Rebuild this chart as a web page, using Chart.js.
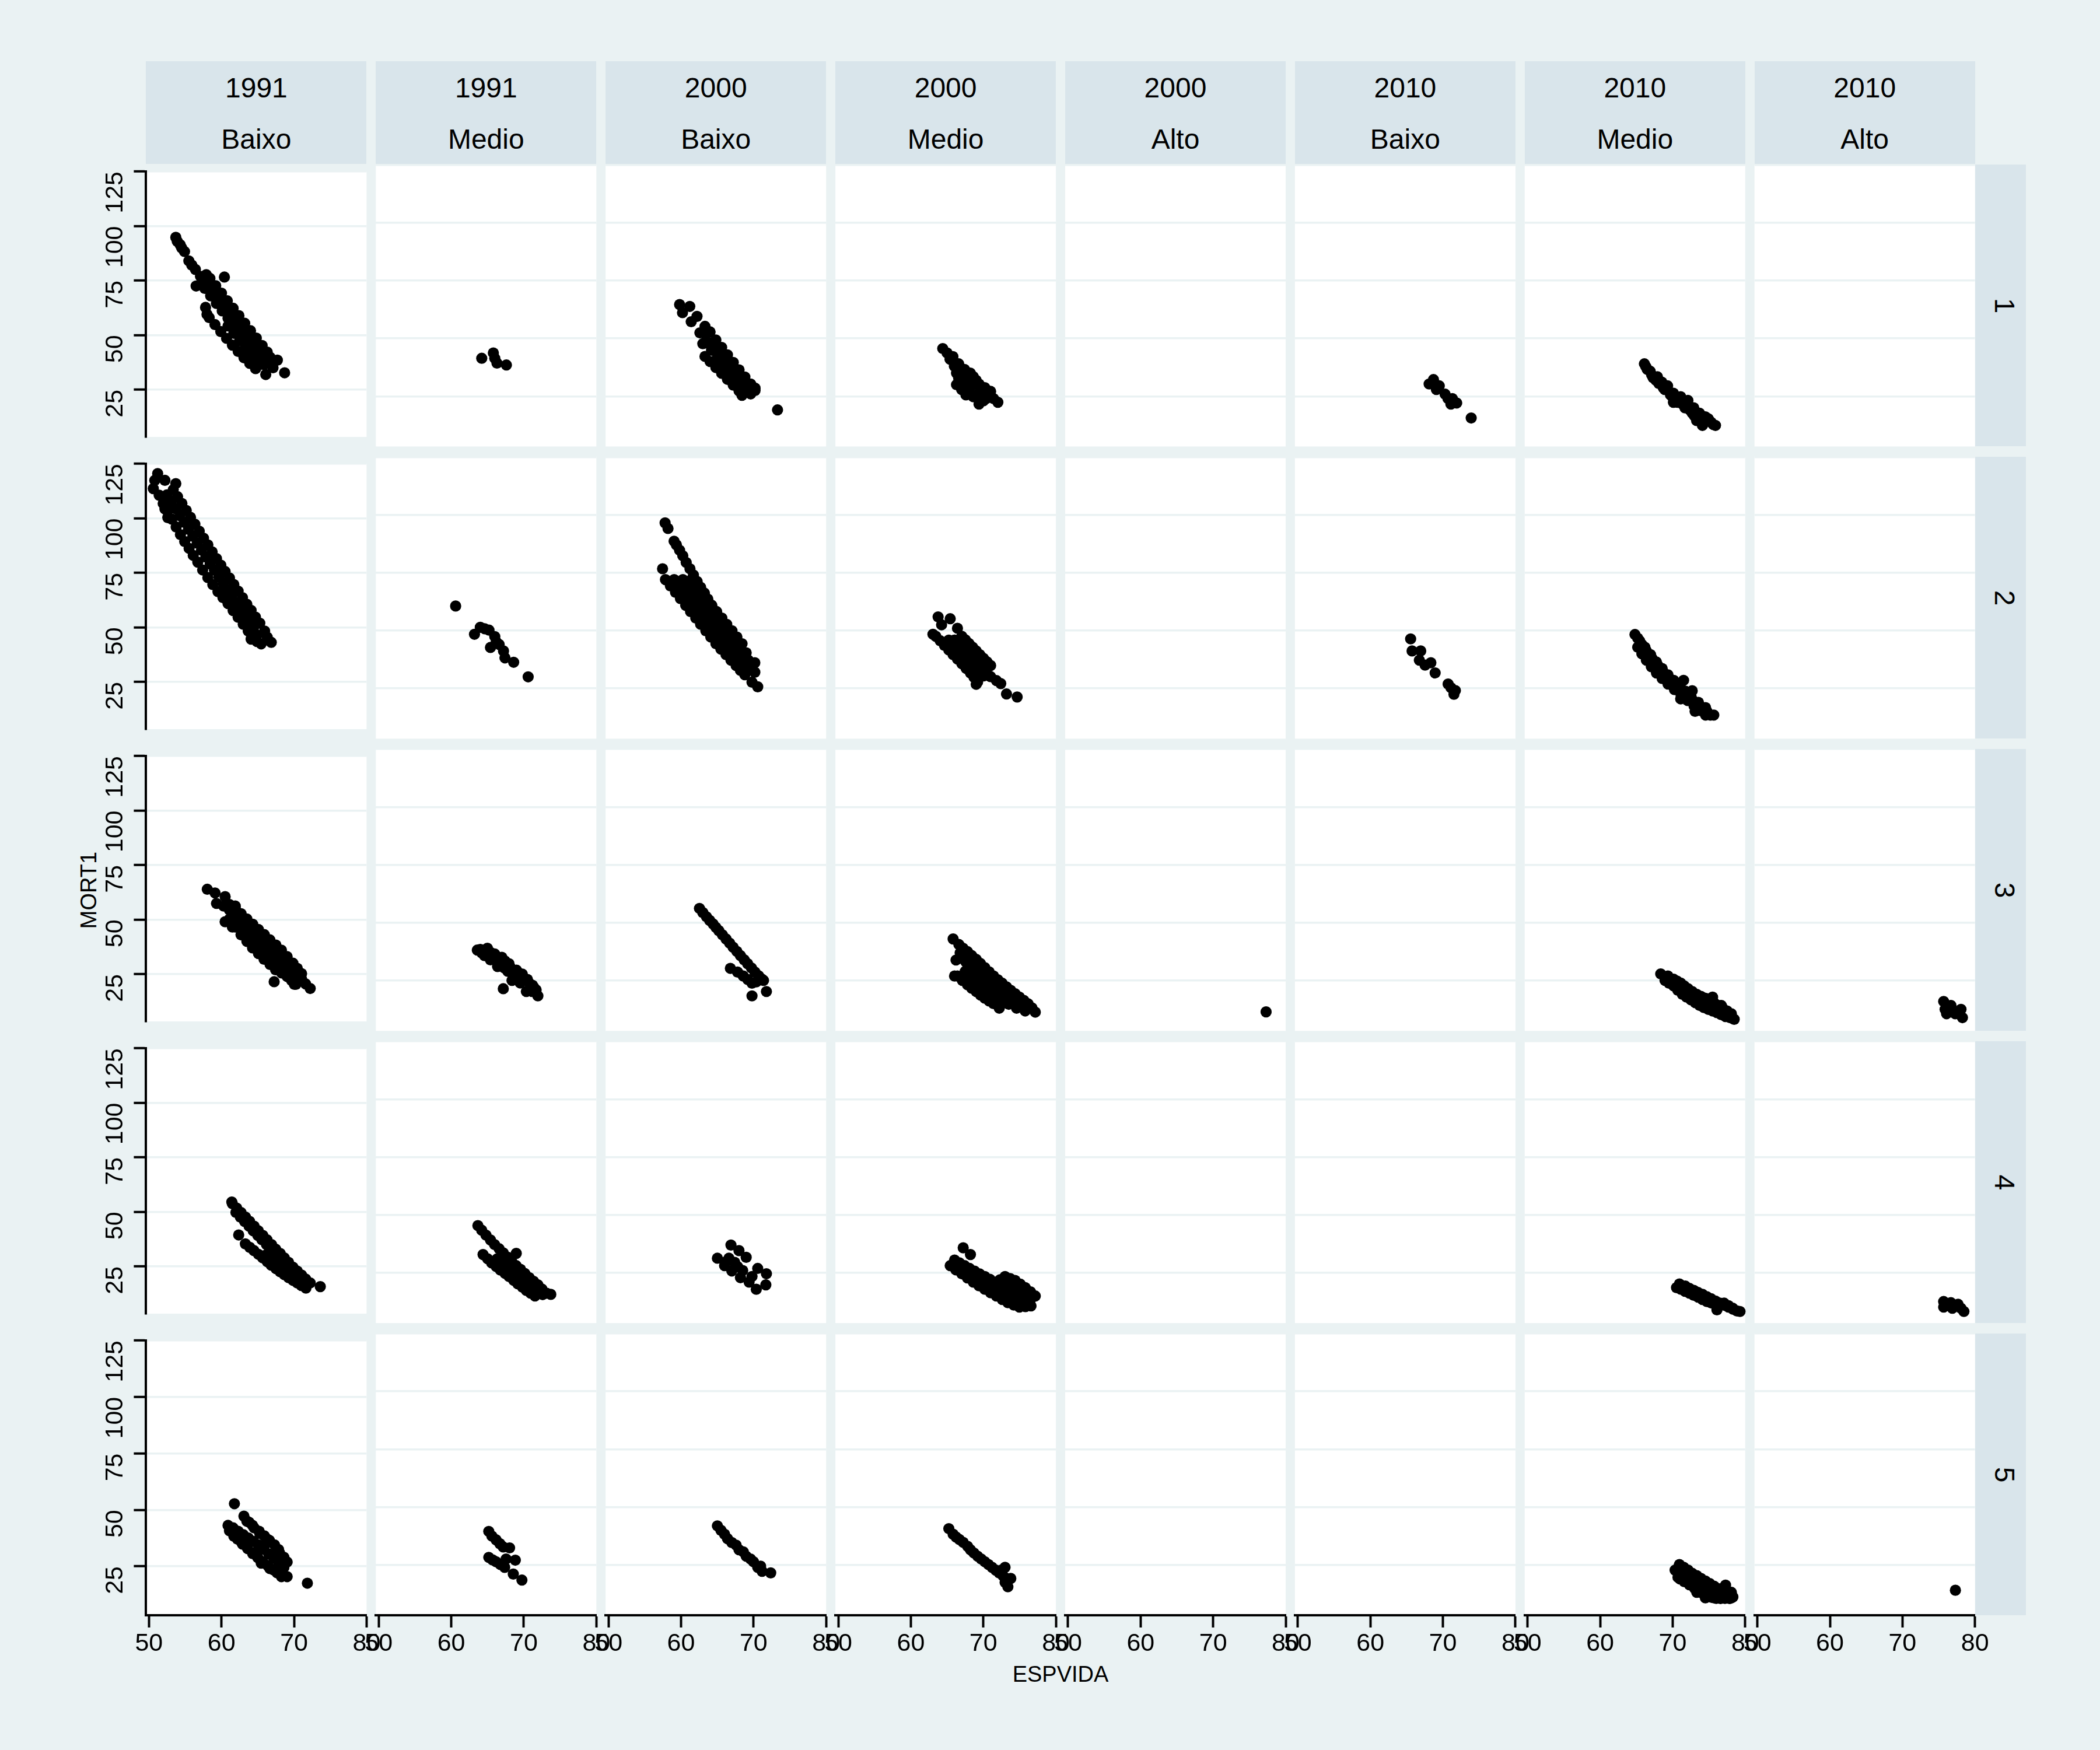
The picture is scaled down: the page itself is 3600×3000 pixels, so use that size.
<!DOCTYPE html>
<html><head><meta charset="utf-8">
<script src="https://cdn.jsdelivr.net/npm/chart.js@4.4.1/dist/chart.umd.min.js"></script>
<style>
html,body{margin:0;padding:0;background:#eaf2f3;}
#root{position:relative;width:3600px;height:3000px;background:#eaf2f3;overflow:hidden;font-family:"Liberation Sans",Arial,sans-serif;color:#000;}
.strip{position:absolute;background:#d9e5eb;}
.lbl{position:absolute;white-space:nowrap;font-size:48px;line-height:48px;}
canvas{position:absolute;}
</style></head><body><div id="root"></div>
<script>
// ---------- categories / ticks ----------
const years  = ['1991','1991','2000','2000','2000','2010','2010','2010'];
const levels = ['Baixo','Medio','Baixo','Medio','Alto','Baixo','Medio','Alto'];
const rowLabels = ['1','2','3','4','5'];
const xTicks = [50,60,70,80];
const yTicks = [25,50,75,100,125];
const xRange = [49.6,80];
const yRange = [3.3,125];
const xTitle = 'ESPVIDA';
const yTitle = 'MORT1';

// ---------- data: [ESPVIDA, MORT1] per panel ----------
const r1_1991_Baixo = [[53.7,94.8],[53.9,93.0],[54.3,91.4],[54.5,90.0],[54.9,88.3],[55.5,84.0],[55.9,82.1],[56.4,80.1],[57.1,76.9],[57.9,77.7],[56.5,72.5],[60.4,76.6],[57.8,62.7],[58.0,59.5],
 [58.4,76.0],[59.2,72.6],[60.0,69.2],[60.8,65.7],[61.6,62.3],[62.4,58.9],[63.2,55.4],[64.0,52.0],[64.8,48.6],[65.6,45.2],[66.3,42.2],
 [57.7,74.8],[58.5,71.4],[59.3,68.0],[60.1,64.5],[60.9,61.1],[61.7,57.7],[62.5,54.2],[63.3,50.8],[64.1,47.4],[64.9,44.0],[65.6,41.0],
 [57.7,71.4],[58.5,68.0],[59.3,64.5],[60.1,61.1],[60.9,57.7],[61.7,54.2],[62.5,50.8],[63.3,47.4],[64.1,44.0],[64.8,41.0],
 [60.9,54.2],[61.7,50.8],[62.5,47.4],[63.3,44.0],[64.0,41.0],
 [58.3,58.0],[59.1,54.8],[59.9,51.6],[60.7,48.5],[61.5,45.4],[62.3,42.5],[63.1,39.6],[63.9,37.0],[64.7,34.6],
 [64.5,39.5],[65.2,38.0],[65.9,36.5],[66.1,31.9],[68.7,32.7],[67.7,38.5],[66.7,39.8],[67.1,35.0],[65.5,36.6],[66.8,37.2]];
const r1_1991_Medio = [[64.2,41.4],[65.8,43.7],[66.0,41.4],[66.3,39.3],[67.6,38.5]];
const r1_2000_Baixo = [[59.8,64.6],[61.2,63.8],[60.2,61.1],[61.4,57.2],[62.2,59.5],[62.6,52.4],[63.0,47.7],
 [63.3,55.2],[64.0,52.8],[64.8,49.3],[65.6,46.1],[66.4,42.9],[67.2,39.6],[68.0,36.4],[68.8,33.3],[69.6,30.3],[70.2,28.5],
 [63.4,51.6],[64.2,48.1],[65.0,44.9],[65.8,41.7],[66.6,38.4],[67.4,35.2],[68.2,32.1],[69.0,29.1],
 [63.4,48.1],[64.2,44.9],[65.0,41.7],[65.8,38.4],[66.6,35.2],[67.4,32.1],[68.2,29.1],
 [63.3,42.2],[64.0,40.0],[64.8,37.4],[65.6,34.9],[66.4,32.3],[67.2,29.8],[68.0,27.3],[68.4,25.4],
 [70.2,27.5],[69.6,26.0],[73.3,19.1]];
const r1_2000_Medio = [[64.4,45.6],[65.0,43.7],[65.8,42.1],[66.6,39.0],[67.4,36.6],[68.2,35.0],[68.6,33.5],[66.6,32.7],[67.0,27.9],[67.6,25.6],[68.6,24.8],[69.4,26.3],[69.4,21.6],[70.4,24.0],[71.0,27.1],[72.0,22.4],[69.4,30.3],[70.2,28.7],[67.8,31.1],[69.0,31.9],[66.9,35.5],[67.5,30.0],[68.2,29.0],[70.0,25.5],
 [65.4,41.0],[66.0,38.0],[66.3,35.0],[67.2,33.5],[68.0,32.5],[68.8,30.5],[69.6,28.5],[70.6,26.0],[71.4,24.0],[66.3,30.0],[67.0,29.5],[68.0,27.0],[69.0,25.0],[70.0,23.0]];
const r1_2010_Baixo = [[68.1,30.3],[68.7,32.2],[69.1,27.9],[69.5,29.5],[70.3,25.9],[70.7,24.0],[71.1,21.6],[71.9,22.1],[71.3,24.0],[73.9,15.6]];
const r1_2010_Medio = [[66.1,39.0],[66.5,36.6],[66.9,35.8],[67.1,34.2],[67.7,31.9],[67.9,33.4],[68.5,31.1],[68.7,28.7],[69.3,29.5],[69.7,25.6],[70.1,26.3],[70.1,22.4],[70.7,22.4],[71.1,24.8],[71.7,20.0],[72.1,23.2],[72.7,17.7],[72.9,20.0],[73.3,14.5],[73.7,17.7],[74.1,12.4],[74.5,16.1],[74.9,15.3],[75.3,13.7],[75.9,12.4],
 [66.3,37.8],[67.3,33.0],[68.1,30.5],[68.9,27.9],[69.9,25.0],[70.9,23.5],[71.4,21.5],[72.4,19.0],[73.0,16.5],[73.5,16.0],[74.3,14.5],[75.1,14.2],[75.6,12.8]];

const r2_1991_Baixo = [[51.2,120.5],[50.8,117.4],[52.2,117.4],[50.6,113.6],[53.7,115.9],[51.4,110.6],[52.2,104.3],[52.6,100.3],
 [53.35,113.1],[53.94,109.9],[54.54,106.8],[55.14,103.6],[55.73,100.4],[56.33,97.3],[56.93,94.1],[57.52,90.9],[58.12,87.8],[58.71,84.6],[59.31,81.5],[59.91,78.5],[60.5,75.6],[61.1,72.6],[61.7,69.6],[62.29,66.6],[62.89,63.6],[63.49,60.6],[64.08,57.8],[64.68,54.7],[65.28,51.9],[65.95,48.3],
 [52.47,110.7],[53.07,107.5],[53.67,104.4],[54.26,101.2],[54.86,98.1],[55.45,94.9],[56.05,91.7],[56.65,88.6],[57.24,85.4],[57.84,82.3],[58.44,79.1],[59.03,76.2],[59.63,73.2],[60.23,70.2],[60.82,67.3],[61.42,64.3],[62.01,61.3],[62.61,58.3],[63.21,55.4],[63.8,52.6],[64.4,49.6],
 [51.96,106.8],[52.55,103.2],[53.15,99.6],[53.75,96.0],[54.34,92.5],[54.93,89.3],[55.53,86.2],[56.1,83.0],[56.73,79.9],[57.4,76.3],[58.12,72.8],[58.8,69.6],[59.51,66.4],[60.2,63.6],[60.9,60.9],[61.6,57.7],[62.29,54.6],[63.0,51.4],[63.68,48.3],[64.3,45.9],[64.88,43.5],
 [59.83,76.8],[66.86,43.1],[65.47,42.4],[64.08,44.6],[64.9,46.5],[66.3,45.5]];
const r2_1991_Medio = [[60.6,60.6],[64.0,51.4],[63.2,48.4],[65.2,50.2],[66.0,47.4],[65.4,42.7],[66.2,45.1],[67.2,41.2],[67.4,38.2],[68.6,36.3],[70.6,30.0],[64.6,50.8],[66.6,44.0]];
const r2_2000_Baixo = [[57.8,96.5],[58.2,94.1],
 [59.04,88.6],[59.36,87.0],[59.8,84.7],[60.24,82.3],[60.71,79.4],[61.23,76.7],[61.71,74.0],[62.22,71.2],[62.7,68.7],[63.22,66.2],[63.69,63.6],[64.21,60.9],[64.69,58.4],[65.21,55.9],[65.68,53.5],[66.2,51.0],[66.68,48.7],[67.19,46.7],[67.67,45.1],[68.19,43.6],
 [57.85,72.0],[58.53,69.3],[59.24,66.5],[59.92,63.8],[60.64,60.9],[61.31,58.2],[62.03,55.4],[62.7,52.7],[63.42,49.9],[64.1,47.2],[64.81,44.3],[65.49,42.0],[66.2,39.6],[66.88,37.2],[67.59,34.9],[68.19,32.8],[68.79,30.9],
 [59.05,72.0],[59.73,69.3],[60.44,66.5],[61.12,63.8],[61.84,60.9],[62.51,58.2],[63.23,55.4],[63.9,52.7],[64.62,49.9],[65.3,47.2],[66.01,44.3],[66.69,42.0],[67.4,39.6],[68.08,37.2],[68.79,34.9],[69.39,32.8],
 [60.25,72.0],[60.93,69.3],[61.64,66.5],[62.32,63.8],[63.04,60.9],[63.71,58.2],[64.43,55.4],[65.1,52.7],[65.82,49.9],[66.5,47.2],[67.21,44.3],[67.89,42.0],[68.6,39.6],[69.28,37.2],
 [61.45,72.0],[62.13,69.3],[62.84,66.5],[63.52,63.8],[64.24,60.9],[64.91,58.2],[65.63,55.4],[66.3,52.7],[67.02,49.9],[67.7,47.2],[68.41,44.3],
 [68.98,40.4],[70.17,36.1],[70.17,32.0],[69.78,27.7],[70.57,25.7],[57.45,76.7],[69.5,34.5]];
const r2_2000_Medio = [[63.76,55.9],[64.24,52.5],[65.43,55.1],[66.43,51.0],[63.05,48.4],[66.03,45.9],
 [63.45,47.5],[64.05,45.6],[64.64,43.6],[65.24,41.6],[65.83,39.6],[66.43,37.7],[67.03,35.7],[67.62,33.7],[68.22,31.7],[68.72,29.8],[69.21,27.8],
 [65.24,45.9],[65.83,43.9],[66.43,41.9],[67.03,40.0],[67.62,38.0],[68.22,36.0],[68.82,34.1],[69.41,32.2],[70.01,30.4],[71.0,30.1],
 [66.04,45.9],[66.63,43.9],[67.23,41.9],[67.83,40.0],[68.42,38.0],[69.02,36.0],[69.62,34.1],[70.21,32.2],[70.81,30.4],
 [67.03,47.5],[67.52,46.0],[68.02,44.4],[68.52,42.8],[69.01,41.2],[69.51,39.6],[70.01,38.0],[70.5,36.5],[71.0,34.9],
 [71.8,28.4],[73.19,22.6],[74.66,21.3],[72.4,27.1],[69.01,26.8]];
const r2_2010_Baixo = [[65.55,46.4],[65.75,41.2],[66.94,41.2],[66.75,37.2],[67.54,35.1],[68.34,36.1],[68.93,31.7],[70.72,26.9],[71.72,24.1],[71.52,22.5],[71.12,25.3]];
const r2_2010_Medio = [[64.8,48.3],[65.45,45.5],[66.17,42.8],[66.95,39.6],[67.76,36.4],[68.55,33.6],[69.35,30.9],[70.15,28.5],[70.95,26.2],[71.75,23.8],[72.54,21.4],[73.55,19.0],[74.53,16.7],
 [65.18,46.7],[65.75,44.0],[66.37,41.2],[67.15,38.0],[67.96,34.9],[68.75,31.8],[69.55,28.8],[70.45,26.4],[71.35,24.1],[72.15,21.7],[72.94,19.4],[73.85,17.2],[74.73,15.1],
 [65.18,42.8],[65.75,40.0],[66.37,37.2],[67.05,34.4],[67.76,31.7],[68.55,29.3],[69.36,26.9],[70.25,24.5],[71.15,22.2],[72.05,19.8],[72.94,17.5],[73.75,15.5],[74.53,13.5],[75.2,13.5],[75.67,13.5],
 [71.5,28.5],[72.69,24.0],[73.09,15.1],[71.1,20.5]];

const r3_1991_Baixo = [[58.04,63.9],[59.11,62.2],[60.5,60.5],[59.31,57.4],[61.9,56.2],[60.5,49.0],[61.5,46.6],
 [60.3,56.2],[61.1,54.4],[61.9,52.6],[62.7,50.2],[63.49,47.8],[64.3,45.4],[65.08,43.0],[65.9,40.6],[66.67,38.2],[67.5,35.8],[68.26,33.5],[69.05,30.5],[69.85,27.5],[70.45,25.1],[71.04,22.7],[71.6,20.5],[72.23,18.4],
 [61.1,56.9],[61.9,55.1],[62.7,52.7],[63.49,50.3],[64.3,47.9],[65.08,45.5],[65.9,43.1],[66.67,40.7],[67.5,38.3],[68.26,36.0],[69.05,33.0],[69.85,30.0],[70.45,27.6],[71.04,25.2],
 [61.5,52.6],[62.3,49.6],[63.09,46.6],[63.9,43.6],[64.68,40.6],[65.5,37.8],[66.27,35.1],[67.1,32.7],[67.86,30.3],[68.7,28.3],[69.45,26.3],
 [61.1,50.2],[61.9,46.6],[62.69,43.0],[63.5,40.0],[64.28,37.0],[65.1,34.4],[65.87,31.8],[66.7,29.4],[67.46,27.0],[68.3,25.5],[69.05,23.9],[69.65,22.1],[70.25,20.3],
 [67.26,21.5],[70.05,20.3]];
const r3_1991_Medio = [[63.59,38.2],[64.98,39.0],[65.78,35.1],[66.97,35.1],[67.96,32.3],[67.17,21.5],[68.96,28.0],[69.75,26.3],[70.75,23.9],[71.94,18.4],[70.35,20.3],[64.58,35.8],[66.38,31.1],[68.37,25.1],[71.14,20.3],[64.2,37.0],[65.4,34.0],[66.0,36.5],[67.3,30.5],[68.4,29.5],[69.5,24.0],[71.4,22.0],
 [64.0,38.5],[65.5,37.0],[66.5,34.0],[67.4,33.5],[68.2,30.5],[69.0,29.5],[69.8,27.8],[70.5,25.5],[71.2,23.0],[71.7,21.0],[67.0,32.0],[67.8,29.0]];
const r3_2000_Baixo = [[62.54,56.2],[63.0,54.4],[63.5,52.6],[63.95,51.0],[64.41,49.5],[64.8,48.0],[65.2,46.6],[65.7,44.8],[66.2,43.0],[66.7,41.2],[67.19,39.4],[67.7,37.6],[68.19,35.8],[68.7,34.0],[69.18,32.3],[69.7,30.5],[70.18,28.7],[70.7,27.1],[71.17,25.6],[66.8,30.3],[67.79,28.7],[68.58,27.0],[69.78,23.9],[69.78,18.4],[71.77,20.3],[71.37,25.1],[69.2,25.5],[70.4,24.5]];
const r3_2000_Medio = [[65.83,43.0],[66.23,33.9],[66.03,27.0],
 [66.63,40.6],[67.2,39.0],[67.82,37.5],[68.4,35.8],[69.01,34.2],[69.6,32.4],[70.2,30.6],[70.8,28.8],[71.4,27.0],[72.0,25.4],[72.59,23.9],[73.2,22.3],[73.78,20.8],[74.4,19.3],[74.97,17.9],[75.6,16.4],[76.17,15.0],[76.7,13.2],[77.16,11.4],
 [67.02,34.6],[67.6,33.0],[68.22,31.5],[68.8,30.1],[69.41,28.7],[70.0,27.1],[70.6,25.6],[71.2,24.1],[71.79,22.7],[72.4,21.2],[72.99,19.8],[73.6,18.2],[74.18,16.7],
 [66.43,27.0],[67.1,25.1],[67.82,23.2],[68.4,21.7],[69.01,20.3],[69.6,18.8],[70.2,17.4],[70.8,16.2],[71.4,15.1],[72.19,13.1],[73.38,15.1],[74.58,13.1],[75.77,11.9],[75.2,14.0],
 [66.8,37.0],[67.5,29.0],[68.0,27.5],[68.7,26.0],[69.3,24.3],[70.0,22.5],[70.7,20.6],[71.3,19.0],[72.0,17.5],[72.7,16.2],[73.5,14.8],[74.5,15.5]];
const r3_2000_Alto = [[77.3,11.5]];
const r3_2010_Medio = [[68.35,27.9],[69.34,27.0],
 [70.14,25.6],[70.6,24.8],[71.13,23.9],[71.6,22.7],[72.12,21.5],[72.7,20.3],[73.32,19.1],[73.9,18.2],[74.51,17.4],[75.1,16.4],[75.7,15.5],[76.3,14.3],[76.9,13.1],[77.5,11.9],[78.09,10.7],[78.48,8.3],
 [68.94,25.1],[69.5,23.9],[70.14,22.7],[70.7,20.9],[71.33,19.1],[71.9,17.9],[72.52,16.7],[73.1,15.5],[73.71,14.3],[74.3,13.4],[74.9,12.6],[75.5,11.9],[76.1,11.2],[76.7,10.3],[77.29,9.5],[77.9,9.0],
 [75.5,17.9],[76.7,14.3]];
const r3_2010_Alto = [[75.68,16.0],[75.88,12.6],[76.68,14.3],[77.27,10.7],[78.07,12.6],[78.27,9.0],[76.08,10.7],[77.0,12.0]];

const r4_1991_Baixo = [[61.42,54.5],
 [61.5,53.7],[62.1,51.7],[62.69,49.7],[63.3,47.6],[63.88,45.6],[64.5,43.4],[65.08,41.3],[65.7,39.2],[66.27,37.2],[66.9,35.0],[67.46,32.9],[68.1,30.9],[68.65,28.9],[69.25,26.8],[69.85,24.6],[70.45,22.8],[71.04,21.0],[71.6,19.2],[72.23,17.4],
 [61.99,49.7],[62.6,47.6],[63.18,45.6],[63.8,43.4],[64.38,41.3],[65.0,39.2],[65.57,37.2],[66.2,35.0],[66.76,32.9],[67.4,30.9],[67.95,28.9],[68.55,26.8],[69.15,24.6],[69.75,22.8],[70.34,21.0],[70.9,19.2],
 [63.29,35.3],[63.9,33.7],[64.48,32.2],[65.1,30.5],[65.67,28.9],[66.3,27.2],[66.86,25.5],[67.5,24.0],[68.06,22.6],[68.65,21.2],[69.25,19.8],[69.85,18.6],[70.44,17.4],[71.0,16.2],[71.64,15.0],
 [66.27,30.5],[66.9,29.0],[67.46,27.7],[68.1,26.3],[68.65,25.0],[69.25,23.3],[69.85,21.7],[70.45,20.1],[71.04,18.6],[71.6,17.2],
 [62.37,39.4],[73.62,15.7]];
const r4_1991_Medio = [[63.67,45.4],[64.2,43.4],[64.78,41.3],[65.4,39.2],[65.97,37.2],[66.6,35.4],[67.17,33.6],[67.8,31.7],[68.36,29.8],[68.95,28.1],[69.55,26.5],[70.15,24.7],[70.75,22.9],[71.35,21.3],[71.94,19.8],[72.5,18.0],[73.13,16.2],
 [64.38,32.9],[65.0,31.1],[65.57,29.3],[66.2,27.7],[66.77,26.2],[67.4,24.8],[67.96,23.4],[68.6,21.8],[69.16,20.3],[69.8,18.8],[70.35,17.4],[70.95,16.2],[71.54,15.0],
 [66.3,31.0],[67.0,29.0],[67.7,27.2],[68.4,25.4],[69.1,23.6],[69.8,21.9],[70.5,20.2],[71.2,18.6],[71.9,17.0],[72.6,15.6],
 [68.96,33.4],[73.72,15.7]];
const r4_2000_Baixo = [[66.88,37.0],[67.99,34.6],[68.98,31.7],[65.01,31.3],[66.6,31.3],[66.0,28.1],[67.0,25.8],[67.79,27.7],[68.19,22.9],[69.38,21.0],[70.37,17.9],[70.57,26.9],[71.77,24.6],[71.69,19.8],[69.78,23.4],[67.4,29.5],[68.5,26.0],[66.3,30.0]];
const r4_2000_Medio = [[67.22,35.8],[68.22,32.9],
 [66.03,30.5],[66.7,29.3],[67.42,28.1],[68.1,26.9],[68.81,25.7],[69.5,24.5],[70.2,23.4],[70.9,22.2],[71.6,21.0],[72.3,22.0],[72.99,23.4],[73.7,22.5],[74.38,21.7],[75.1,20.1],[75.77,18.6],[76.5,16.8],[77.16,15.0],
 [65.43,28.1],[66.2,26.3],[67.02,24.6],[67.8,22.8],[68.61,21.0],[69.4,19.4],[70.2,17.9],[71.0,16.4],[71.79,15.0],[72.6,13.5],[73.38,12.1],[74.2,11.1],[74.97,10.2],[75.8,10.4],[76.57,10.7],
 [67.02,27.0],[67.8,25.5],[68.61,24.1],[69.4,22.5],[70.2,21.0],[71.0,19.8],[71.79,18.6],[72.6,17.4],[73.38,16.2],[74.2,15.0],[74.97,13.8],[75.8,13.8],[76.57,13.8],
 [72.3,19.8],[73.0,20.0],[73.7,19.5],[74.4,18.5],[75.1,17.3],[75.8,16.0],[76.5,14.8],[71.5,19.5],[70.7,20.5],[69.9,21.8],[69.1,23.2],[68.3,24.8],[67.5,26.2],[76.0,12.2],[75.2,12.0],[74.4,12.5],[73.6,13.8],[72.8,15.0]];
const r4_2010_Medio = [[70.93,20.2],[70.53,18.6],
 [71.73,19.3],[72.3,18.3],[72.92,17.4],[73.5,16.5],[74.11,15.7],[74.7,14.7],[75.3,13.8],[75.9,12.8],[76.5,11.9],[77.1,11.0],[77.69,10.2],[78.3,9.3],[78.88,8.5],
 [71.13,17.9],[71.7,17.0],[72.32,16.2],[72.9,15.3],[73.51,14.5],[74.1,13.5],[74.71,12.6],[75.3,12.0],[75.9,11.4],[76.5,11.6],[77.09,11.9],[77.7,10.8],[78.29,9.7],[79.28,8.3],
 [76.1,9.0]];
const r4_2010_Alto = [[75.68,12.6],[76.68,12.1],[75.68,10.2],[76.88,9.7],[77.67,11.4],[78.47,8.3],[78.07,9.7],[76.2,11.5],[77.2,10.6]];

const r5_1991_Baixo = [[61.78,52.7],[63.09,47.2],[60.9,43.1],[61.1,40.7],[61.7,38.3],[62.69,35.9],[63.49,45.0],[64.28,43.1],[65.28,39.5],[66.27,37.1],[67.86,32.4],[69.05,26.9],[65.87,33.6],[67.06,30.0],[68.26,20.4],[69.05,20.4],[71.84,17.5],[64.68,31.2],[63.49,33.6],[65.47,26.4],[66.67,24.0],[67.66,22.1],
 [61.6,42.0],[62.3,40.5],[63.0,39.0],[63.7,37.5],[64.4,36.0],[65.1,34.5],[65.8,32.5],[66.5,30.5],[67.2,28.5],[67.9,26.5],[68.6,24.5],
 [62.2,37.0],[62.9,34.8],[63.6,32.8],[64.3,30.6],[65.0,28.8],[65.7,27.0],[66.4,25.2],[67.1,23.5],
 [63.8,44.5],[64.5,42.0],[65.2,40.5],[65.9,38.5],[66.6,36.5],[67.3,34.5],[68.0,31.0],[68.6,29.0]];
const r5_1991_Medio = [[65.17,39.5],[66.17,35.9],[67.16,32.8],[68.04,32.4],[65.17,28.3],[66.17,26.4],[67.36,24.0],[67.56,27.6],[68.83,27.1],[68.55,21.1],[69.74,18.5],[66.77,25.2],[65.6,37.5],[66.7,34.2],[65.7,27.2]];
const r5_2000_Baixo = [[65.01,41.9],[65.5,40.0],[66.0,38.3],[66.4,36.4],[67.0,34.7],[67.59,33.6],[67.99,31.6],[68.58,30.7],[68.98,28.8],[69.58,27.6],[69.98,26.4],[70.57,24.0],[70.97,24.5],[71.17,22.3],[72.36,21.6]];
const r5_2000_Medio = [[65.24,40.7],[65.83,38.3],[66.23,37.1],[66.7,36.0],[67.22,34.8],[67.82,33.1],[68.22,31.6],[68.7,30.2],[69.21,28.8],[69.7,27.6],[70.2,26.4],[70.7,25.2],[71.2,24.0],[71.7,22.8],[72.19,21.6],[72.7,20.4],[73.19,19.2],[72.99,24.0],[73.78,19.2],[73.38,15.6],[72.5,22.8],[73.0,17.5]];
const r5_2010_Medio = [[70.93,25.2],[70.33,22.8],[71.53,24.0],[70.73,19.7],[72.12,22.8],[73.32,20.4],[74.51,18.0],[75.7,15.6],[76.9,13.9],[77.89,12.0],[72.32,16.8],[73.32,13.2],[74.51,10.8],[75.7,10.8],[76.9,10.8],[78.09,10.8],[72.52,19.2],[73.71,15.6],[74.9,14.4],[77.29,16.3],[78.09,13.2],[71.5,21.0],[72.9,18.0],[74.1,16.2],[75.3,13.0],[76.3,12.5],[77.5,13.5],[71.2,19.0],
 [71.9,21.3],[72.7,20.0],[73.5,18.6],[74.3,17.2],[75.1,15.9],[75.9,14.6],[76.7,13.3],[77.5,12.2],[78.3,11.2],[72.0,18.5],[72.8,17.0],[73.6,15.4],[74.4,14.0],[75.2,12.6],[76.0,11.8],[76.8,11.5],[77.6,11.0],[71.4,23.0],[70.9,21.5],
 [70.9,24.8],[71.5,23.6],[72.1,22.5],[72.7,21.4],[73.3,20.3],[73.9,19.2],[74.5,18.1],[75.1,17.0],[75.7,15.9],[76.3,14.8],[76.9,13.8],[77.5,12.8],[78.1,11.8],
 [70.7,21.8],[71.3,20.8],[71.9,19.8],[72.5,18.8],[73.1,17.8],[73.7,16.8],[74.3,15.8],[74.9,14.8],[75.5,13.8],[76.1,12.9],[76.7,12.0],[77.3,11.2],[77.9,10.6],
 [71.0,19.0],[71.6,17.8],[72.3,16.5],[73.0,15.0],[73.6,13.8],[74.2,12.6],[74.8,11.6],[75.4,11.0],[76.0,10.6],[76.6,10.5],[77.2,10.6],[77.8,10.6]];
const r5_2010_Alto = [[77.3,14.1]];

// table of panels (rows x columns) built from the arrays above
const E = [];
const panelGrid = [
  [r1_1991_Baixo, r1_1991_Medio, r1_2000_Baixo, r1_2000_Medio, E, r1_2010_Baixo, r1_2010_Medio, E],
  [r2_1991_Baixo, r2_1991_Medio, r2_2000_Baixo, r2_2000_Medio, E, r2_2010_Baixo, r2_2010_Medio, E],
  [r3_1991_Baixo, r3_1991_Medio, r3_2000_Baixo, r3_2000_Medio, r3_2000_Alto, E, r3_2010_Medio, r3_2010_Alto],
  [r4_1991_Baixo, r4_1991_Medio, r4_2000_Baixo, r4_2000_Medio, E, E, r4_2010_Medio, r4_2010_Alto],
  [r5_1991_Baixo, r5_1991_Medio, r5_2000_Baixo, r5_2000_Medio, E, E, r5_2010_Medio, r5_2010_Alto]
];

// ---------- layout (pixels) ----------
const PL = 250.4, PT = 282.4, CW = 378, RH = 483, CP = 393.9, RP = 500.9;
const BG = '#eaf2f3';
const FONT = '"Liberation Sans", Arial, Helvetica, sans-serif';
const root = document.getElementById('root');

function addDiv(cls, css, text) {
  const d = document.createElement('div');
  d.className = cls; Object.assign(d.style, css);
  if (text !== undefined) d.textContent = text;
  root.appendChild(d); return d;
}

// column header strips
for (let c = 0; c < years.length; c++) {
  const L = PL + c * CP;
  addDiv('strip', {left: L + 'px', top: '105px', width: CW + 'px', height: '176px'});
  addDiv('lbl', {left: (L + CW / 2) + 'px', top: '127px', transform: 'translateX(-50%)'}, years[c]);
  addDiv('lbl', {left: (L + CW / 2) + 'px', top: '215px', transform: 'translateX(-50%)'}, levels[c]);
}
// row strips
const stripL = PL + 7 * CP + CW;
for (let r = 0; r < rowLabels.length; r++) {
  const T = PT + r * RP;
  addDiv('strip', {left: stripL + 'px', top: T + 'px', width: (3473.3 - stripL) + 'px', height: RH + 'px'});
  addDiv('lbl', {left: '3436px', top: (T + RH / 2) + 'px', transform: 'translate(-50%,-50%) rotate(90deg)'}, rowLabels[r]);
}
// axis titles
addDiv('lbl', {left: '151.5px', top: ((PT + PT + 4 * RP + RH) / 2) + 'px', fontSize: '38px', lineHeight: '38px', transform: 'translate(-50%,-50%) rotate(-90deg)'}, yTitle);
addDiv('lbl', {left: ((PL + stripL) / 2) + 'px', top: '2870px', fontSize: '38px', lineHeight: '38px', transform: 'translate(-50%,-50%)'}, xTitle);

// ---------- charts ----------
Chart.defaults.font.family = FONT;
Chart.defaults.color = '#000';
const whiteArea = {
  id: 'whiteArea',
  beforeDraw(chart) {
    const a = chart.chartArea, ctx = chart.ctx;
    ctx.save(); ctx.fillStyle = '#ffffff';
    ctx.fillRect(a.left, a.top, a.right - a.left, a.bottom - a.top);
    ctx.restore();
  }
};

for (let r = 0; r < 5; r++) {
  for (let c = 0; c < 8; c++) {
    const isLeft = c === 0, isBottom = r === 4;
    const CL = PL + c * CP, CT = PT + r * RP;
    const yW = isLeft ? 150 : 0;
    const xH = isBottom ? 90 : 0;
    const cvLeft = Math.floor(CL) - 40 - yW;
    const cvTop = Math.floor(CT) - 45;
    const padL = CL - yW - cvLeft;
    const padT = CT - cvTop;
    const W = Math.ceil(padL + yW + CW + 40);
    const H = Math.ceil(padT + RH + xH + (isBottom ? 10 : 40));
    const padR = W - (padL + yW + CW);
    const padB = H - (padT + RH + xH);
    const cv = document.createElement('canvas');
    cv.width = W; cv.height = H;
    Object.assign(cv.style, {left: cvLeft + 'px', top: cvTop + 'px', width: W + 'px', height: H + 'px'});
    root.appendChild(cv);
    const pts = panelGrid[r][c].map(p => ({x: p[0], y: p[1]}));
    new Chart(cv.getContext('2d'), {
      type: 'scatter',
      data: {datasets: [{data: pts, pointRadius: 9.6, pointHoverRadius: 9.6, pointBackgroundColor: '#000', pointBorderWidth: 0, clip: false}]},
      options: {
        responsive: false, animation: false, devicePixelRatio: 1, events: [],
        layout: {autoPadding: false, padding: {left: padL, top: padT, right: padR, bottom: padB}},
        plugins: {legend: {display: false}, tooltip: {enabled: false}, title: {display: false}},
        scales: {
          x: {
            type: 'linear', position: 'bottom', min: xRange[0], max: xRange[1], display: isBottom,
            afterBuildTicks: s => { s.ticks = xTicks.map(v => ({value: v})); },
            afterFit: s => { s.height = xH; },
            grid: {display: true, drawOnChartArea: false, drawTicks: true, tickLength: 21, tickColor: '#000', tickWidth: 4},
            border: {display: true, color: '#000', width: 4},
            ticks: {autoSkip: false, maxRotation: 0, minRotation: 0, padding: 2.5, color: '#000', font: {size: 43, family: FONT}}
          },
          y: {
            type: 'linear', position: 'left', min: yRange[0], max: yRange[1], display: true,
            afterBuildTicks: s => { s.ticks = yTicks.map(v => ({value: v})); },
            afterFit: s => { s.width = yW; },
            grid: {display: true, color: BG, lineWidth: 3.5, drawOnChartArea: true, drawTicks: isLeft, tickLength: 21, tickColor: '#000', tickWidth: 4},
            border: {display: isLeft, color: '#000', width: 4},
            ticks: {display: isLeft, autoSkip: false, minRotation: 90, maxRotation: 90, padding: 31.2, color: '#000', font: {size: 43, family: FONT}}
          }
        }
      },
      plugins: [whiteArea]
    });
  }
}
</script>
</body></html>
